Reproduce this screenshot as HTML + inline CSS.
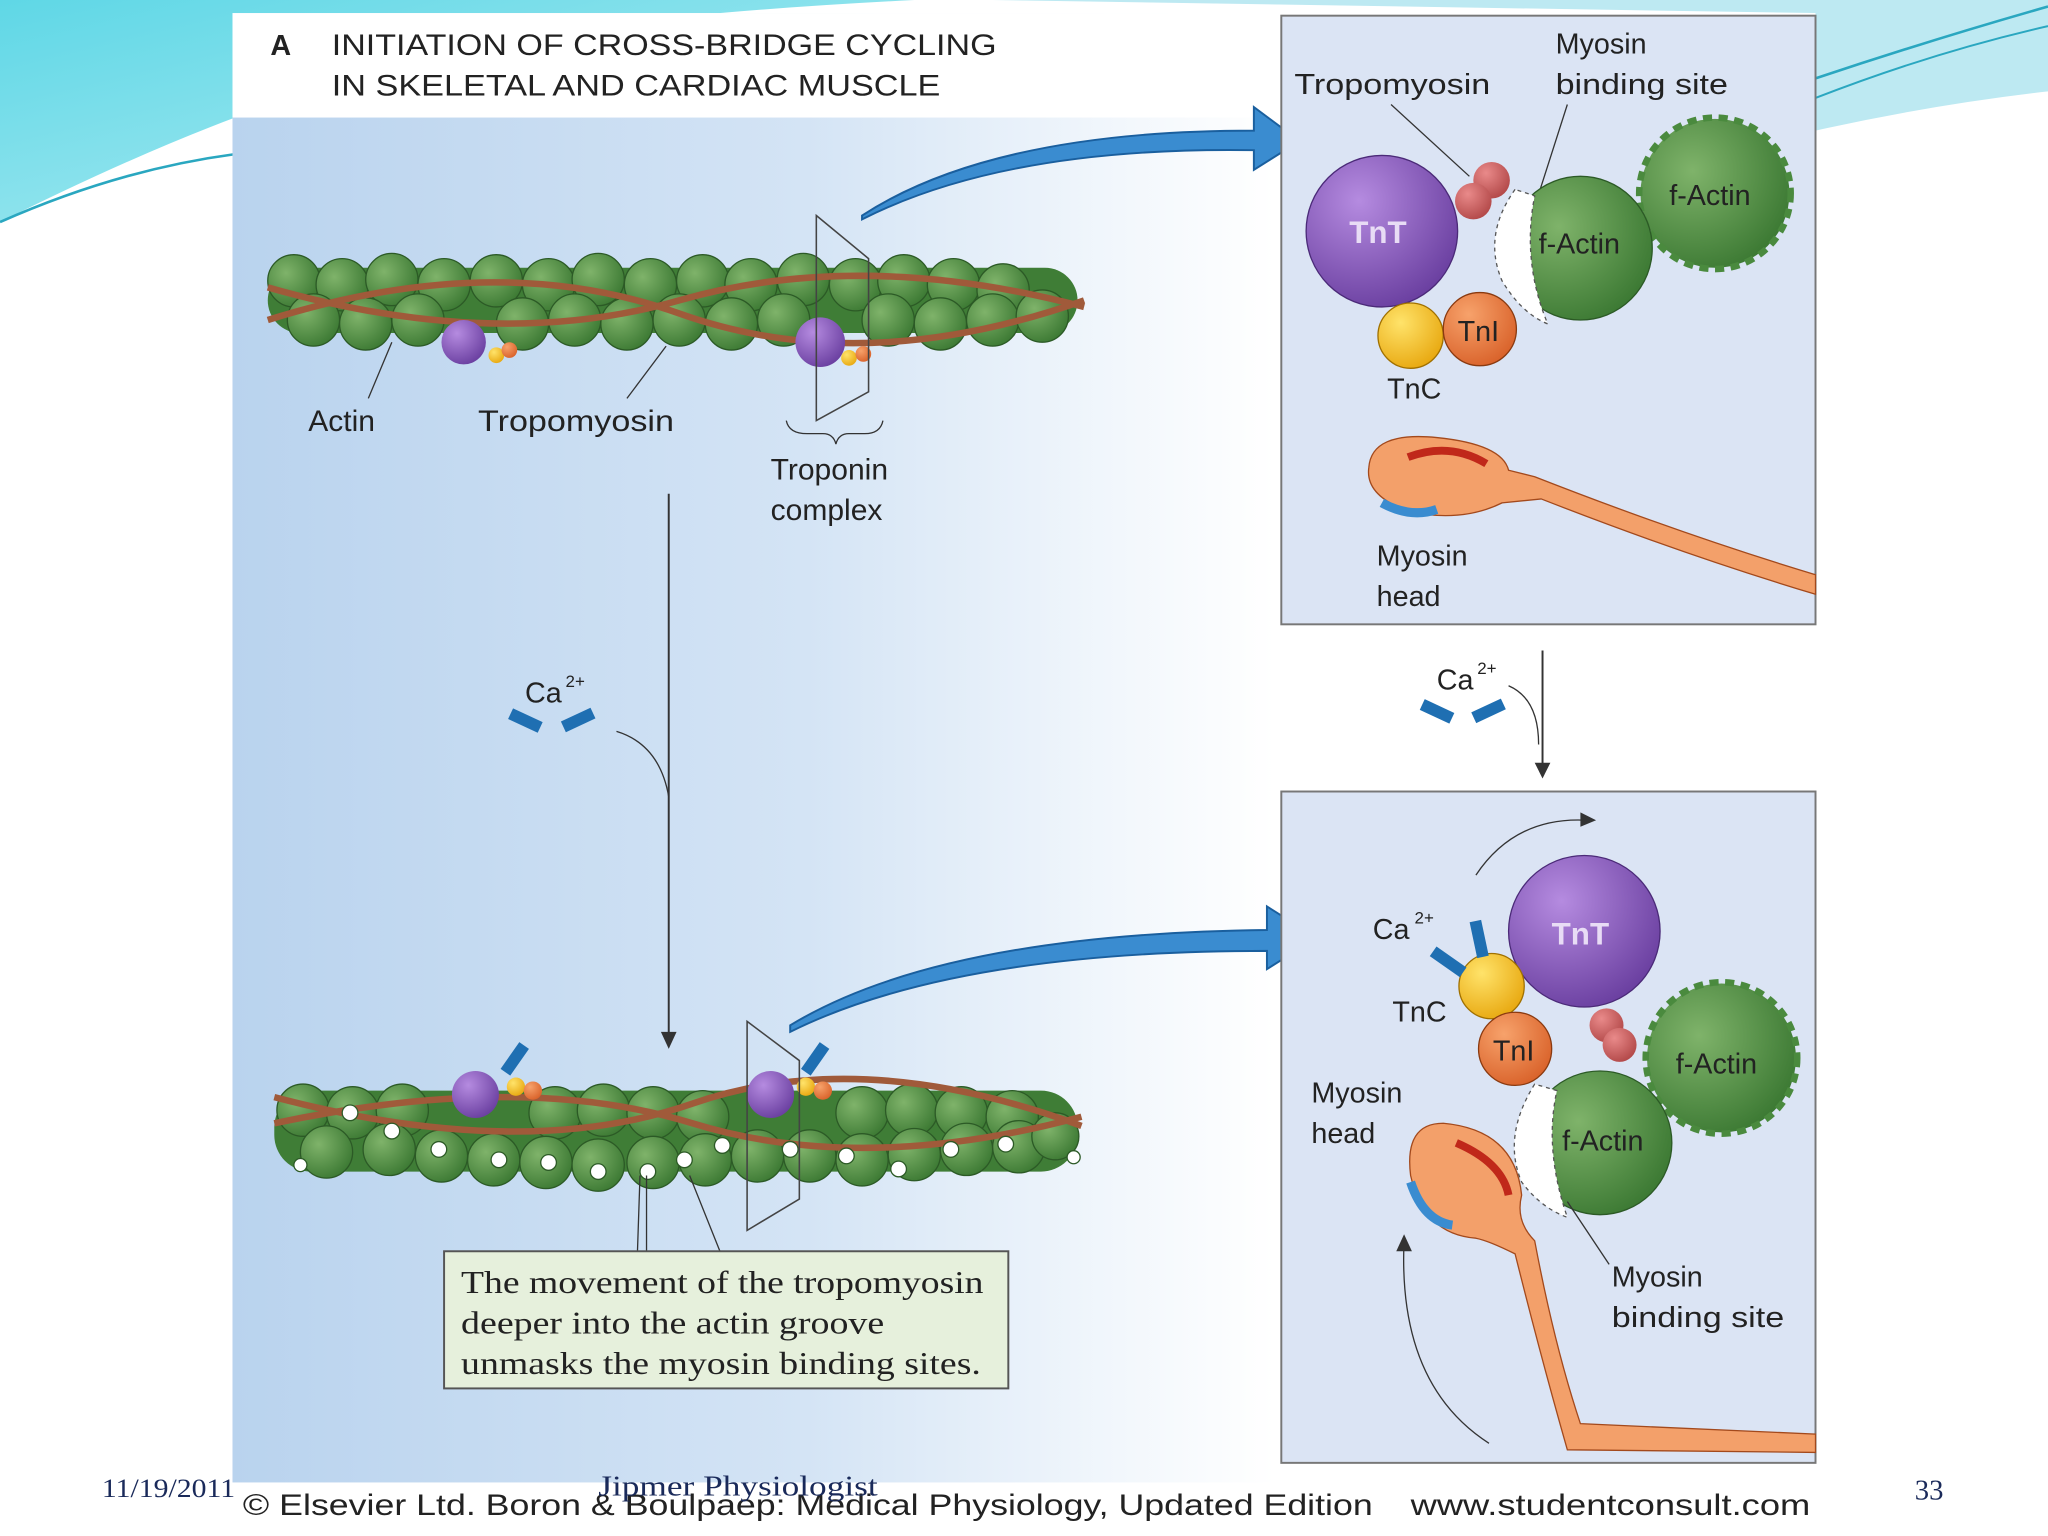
<!DOCTYPE html>
<html><head><meta charset="utf-8"><style>
html,body{margin:0;padding:0;background:#fff;}
svg{display:block;}
text{font-family:"Liberation Sans",sans-serif;}
</style></head><body>
<svg width="2048" height="1536" viewBox="0 0 1568 1176" xmlns="http://www.w3.org/2000/svg">
<defs>
<linearGradient id="bg" x1="0" y1="0" x2="1" y2="0">
<stop offset="0" stop-color="#b9d3ee"/><stop offset="0.55" stop-color="#d4e4f5"/><stop offset="0.85" stop-color="#f2f7fc"/><stop offset="1" stop-color="#ffffff"/>
</linearGradient>
<linearGradient id="tl" x1="0" y1="0" x2="1" y2="1">
<stop offset="0" stop-color="#5fd7e6"/><stop offset="1" stop-color="#b9eef3"/>
</linearGradient>
<radialGradient id="gr" cx="0.35" cy="0.35" r="0.7"><stop offset="0" stop-color="#7fb36a"/><stop offset="1" stop-color="#3d7a34"/></radialGradient>
<radialGradient id="pu" cx="0.35" cy="0.3" r="0.75"><stop offset="0" stop-color="#b58be0"/><stop offset="1" stop-color="#6a3fa0"/></radialGradient>
<radialGradient id="ye" cx="0.35" cy="0.3" r="0.75"><stop offset="0" stop-color="#ffe36a"/><stop offset="1" stop-color="#e8a810"/></radialGradient>
<radialGradient id="or" cx="0.35" cy="0.3" r="0.75"><stop offset="0" stop-color="#f7a26b"/><stop offset="1" stop-color="#d9622a"/></radialGradient>
<radialGradient id="rd" cx="0.35" cy="0.3" r="0.75"><stop offset="0" stop-color="#e98a8a"/><stop offset="1" stop-color="#b24848"/></radialGradient>
</defs>
<rect width="1568" height="1176" fill="#fff"/>
<path d="M0 0 H700 Q300 20 180 90 Q100 120 0 170 Z" fill="url(#tl)"/>
<path d="M0 170 Q90 130 180 118" stroke="#2aa7c0" stroke-width="2" fill="none"/>
<path d="M760 0 H1568 V70 Q1480 80 1390 100 L1390 10 Z" fill="#bde9f2"/>
<path d="M1390 60 Q1480 30 1568 5" stroke="#2aa7c0" stroke-width="2" fill="none"/>
<path d="M1390 75 Q1480 40 1568 20" stroke="#2aa7c0" stroke-width="1.5" fill="none"/>
<rect x="178" y="10" width="798" height="1125" fill="url(#bg)"/>
<rect x="178" y="10" width="798" height="80" fill="#fff"/>
<text x="207" y="42" font-size="22" font-weight="bold" fill="#222">A</text>
<text x="254" y="42" font-size="23" fill="#222" textLength="509" lengthAdjust="spacingAndGlyphs">INITIATION OF CROSS-BRIDGE CYCLING</text>
<text x="254" y="73" font-size="23" fill="#222" textLength="466" lengthAdjust="spacingAndGlyphs">IN SKELETAL AND CARDIAC MUSCLE</text>
<g>
<rect x="205" y="205" width="620" height="50" rx="25" fill="#3f7d36"/>
<g fill="url(#gr)" stroke="#2c5a26" stroke-width="1">
<circle cx="225" cy="215" r="20"/><circle cx="262" cy="218" r="20"/><circle cx="300" cy="214" r="20"/><circle cx="340" cy="218" r="20"/><circle cx="380" cy="215" r="20"/><circle cx="420" cy="218" r="20"/><circle cx="458" cy="214" r="20"/><circle cx="498" cy="218" r="20"/><circle cx="538" cy="215" r="20"/><circle cx="575" cy="218" r="20"/><circle cx="615" cy="214" r="20"/><circle cx="655" cy="218" r="20"/><circle cx="692" cy="215" r="20"/><circle cx="730" cy="218" r="20"/><circle cx="768" cy="222" r="20"/>
<circle cx="240" cy="245" r="20"/><circle cx="280" cy="248" r="20"/><circle cx="320" cy="245" r="20"/><circle cx="400" cy="248" r="20"/><circle cx="440" cy="245" r="20"/><circle cx="480" cy="248" r="20"/><circle cx="520" cy="245" r="20"/><circle cx="560" cy="248" r="20"/><circle cx="600" cy="245" r="20"/><circle cx="680" cy="245" r="20"/><circle cx="720" cy="248" r="20"/><circle cx="760" cy="245" r="20"/><circle cx="798" cy="242" r="20"/>
</g>
<path d="M205 220 Q380 270 520 230 T830 235" stroke="#a05a3a" stroke-width="5" fill="none"/>
<path d="M205 245 Q380 190 520 240 T830 230" stroke="#a05a3a" stroke-width="5" fill="none"/>
<circle cx="355" cy="262" r="17" fill="url(#pu)"/><circle cx="380" cy="272" r="6" fill="url(#ye)"/><circle cx="390" cy="268" r="6" fill="url(#or)"/>
<circle cx="628" cy="262" r="19" fill="url(#pu)"/><circle cx="650" cy="274" r="6" fill="url(#ye)"/><circle cx="661" cy="271" r="6" fill="url(#or)"/>
<path d="M625 165 L665 198 L665 300 L625 322 Z" fill="none" stroke="#444" stroke-width="1.2"/>
</g>
<line x1="300" y1="262" x2="282" y2="305" stroke="#333"/>
<line x1="510" y1="265" x2="480" y2="305" stroke="#333"/>
<text x="236" y="330" font-size="23" fill="#222">Actin</text>
<text x="366" y="330" font-size="23" fill="#222" textLength="150" lengthAdjust="spacingAndGlyphs">Tropomyosin</text>
<path d="M602 322 Q604 332 618 332 L630 332 Q638 332 640 340 Q642 332 650 332 L662 332 Q674 332 676 322" stroke="#333" fill="none"/>
<text x="590" y="367" font-size="23" fill="#222">Troponin</text>
<text x="590" y="398" font-size="23" fill="#222">complex</text>
<path d="M660 165 Q760 100 960 100 L960 82 L995 108 L960 130 L960 115 Q770 112 660 168 Z" fill="#3a8cd0" stroke="#1a5f9e" stroke-width="1.5"/>
<path d="M605 785 Q720 715 970 712 L970 694 L1008 718 L970 742 L970 728 Q730 728 605 790 Z" fill="#3a8cd0" stroke="#1a5f9e" stroke-width="1.5"/>
<line x1="512" y1="378" x2="512" y2="795" stroke="#333" stroke-width="1.5"/>
<path d="M506 790 L512 803 L518 790 Z" fill="#333"/>
<path d="M472 560 Q505 570 512 610" stroke="#333" fill="none"/>
<text x="402" y="538" font-size="22" fill="#222">Ca</text><text x="433" y="526" font-size="13" fill="#222">2+</text>
<rect x="390" y="547" width="25" height="9" fill="#1f6fb2" transform="rotate(25 402 551)"/>
<rect x="430" y="547" width="25" height="9" fill="#1f6fb2" transform="rotate(-25 442 551)"/>
<g>
<rect x="210" y="835" width="615" height="62" rx="28" fill="#3f7d36"/>
<g fill="url(#gr)" stroke="#2c5a26" stroke-width="1">
<circle cx="232" cy="850" r="20"/><circle cx="270" cy="852" r="20"/><circle cx="308" cy="850" r="20"/><circle cx="425" cy="852" r="20"/><circle cx="462" cy="850" r="20"/><circle cx="500" cy="852" r="20"/><circle cx="538" cy="855" r="20"/><circle cx="660" cy="852" r="20"/><circle cx="698" cy="850" r="20"/><circle cx="736" cy="852" r="20"/><circle cx="775" cy="855" r="20"/>
<circle cx="250" cy="882" r="20"/><circle cx="298" cy="880" r="20"/><circle cx="338" cy="885" r="20"/><circle cx="378" cy="888" r="20"/><circle cx="418" cy="890" r="20"/><circle cx="458" cy="892" r="20"/><circle cx="500" cy="890" r="20"/><circle cx="540" cy="888" r="20"/><circle cx="580" cy="885" r="20"/><circle cx="620" cy="885" r="20"/><circle cx="660" cy="888" r="20"/><circle cx="700" cy="884" r="20"/><circle cx="740" cy="880" r="20"/><circle cx="780" cy="878" r="20"/><circle cx="808" cy="870" r="18"/>
</g>
<path d="M210 840 Q400 890 530 845 T828 862" stroke="#a05a3a" stroke-width="5" fill="none"/>
<path d="M210 860 Q400 820 530 860 T828 855" stroke="#a05a3a" stroke-width="5" fill="none"/>
<g fill="#fff" stroke="#2c5a26">
<circle cx="268" cy="852" r="6"/><circle cx="300" cy="866" r="6"/><circle cx="336" cy="880" r="6"/><circle cx="382" cy="888" r="6"/><circle cx="420" cy="890" r="6"/><circle cx="458" cy="897" r="6"/><circle cx="496" cy="897" r="6"/><circle cx="524" cy="888" r="6"/><circle cx="553" cy="877" r="6"/><circle cx="605" cy="880" r="6"/><circle cx="648" cy="885" r="6"/><circle cx="688" cy="895" r="6"/><circle cx="728" cy="880" r="6"/><circle cx="770" cy="876" r="6"/><circle cx="822" cy="886" r="5"/><circle cx="230" cy="892" r="5"/>
</g>
<circle cx="364" cy="838" r="18" fill="url(#pu)"/><circle cx="395" cy="832" r="7" fill="url(#ye)"/><circle cx="408" cy="835" r="7" fill="url(#or)"/>
<rect x="390" y="798" width="9" height="25" fill="#1f6fb2" transform="rotate(35 394 810)"/>
<circle cx="590" cy="838" r="18" fill="url(#pu)"/><circle cx="617" cy="832" r="7" fill="url(#ye)"/><circle cx="630" cy="835" r="7" fill="url(#or)"/>
<rect x="620" y="798" width="9" height="25" fill="#1f6fb2" transform="rotate(35 624 810)"/>
<path d="M572 782 L612 812 L612 918 L572 942 Z" fill="none" stroke="#444" stroke-width="1.2"/>
</g>
<path d="M490 900 L488 960 M495 900 L495 960 M528 900 L552 960" stroke="#333" fill="none"/>
<rect x="340" y="958" width="432" height="105" fill="#e6f0dc" stroke="#555" stroke-width="1.5"/>
<g font-size="24" fill="#222">
<text x="353" y="990" style="font-family:'Liberation Serif',serif" textLength="400" lengthAdjust="spacingAndGlyphs">The movement of the tropomyosin</text>
<text x="353" y="1021" style="font-family:'Liberation Serif',serif" textLength="324" lengthAdjust="spacingAndGlyphs">deeper into the actin groove</text>
<text x="353" y="1052" style="font-family:'Liberation Serif',serif" textLength="398" lengthAdjust="spacingAndGlyphs">unmasks the myosin binding sites.</text>
</g>
<rect x="981" y="12" width="409" height="466" fill="#dbe4f4" stroke="#777" stroke-width="1.5"/>
<text x="991" y="72" font-size="22" fill="#222" textLength="150" lengthAdjust="spacingAndGlyphs">Tropomyosin</text>
<text x="1191" y="41" font-size="22" fill="#222">Myosin</text>
<text x="1191" y="72" font-size="22" fill="#222" textLength="132" lengthAdjust="spacingAndGlyphs">binding site</text>
<line x1="1065" y1="80" x2="1125" y2="135" stroke="#333"/>
<line x1="1200" y1="80" x2="1168" y2="180" stroke="#333"/>
<circle cx="1313" cy="148" r="57" fill="url(#gr)"/>
<circle cx="1313" cy="148" r="58" fill="none" stroke="#4a8a3e" stroke-width="5" stroke-dasharray="7 5"/>
<circle cx="1210" cy="190" r="55" fill="url(#gr)" stroke="#2c5a26"/>
<path d="M1160 145 Q1135 180 1150 215 Q1165 240 1185 248 Q1165 200 1175 150 Z" fill="#fff" stroke="#555" stroke-dasharray="3 3"/>
<text x="1178" y="194" font-size="22" fill="#222">f-Actin</text>
<text x="1278" y="157" font-size="22" fill="#222">f-Actin</text>
<circle cx="1142" cy="138" r="14" fill="url(#rd)"/><circle cx="1128" cy="154" r="14" fill="url(#rd)"/>
<circle cx="1058" cy="177" r="58" fill="url(#pu)" stroke="#4b2a78"/>
<text x="1033" y="186" font-size="24" font-weight="bold" fill="#e8dcf5">TnT</text>
<circle cx="1080" cy="257" r="25" fill="url(#ye)" stroke="#a07000"/>
<circle cx="1133" cy="252" r="28" fill="url(#or)" stroke="#8a3a10"/>
<text x="1116" y="261" font-size="22" fill="#222">TnI</text>
<text x="1062" y="305" font-size="22" fill="#222">TnC</text>
<path d="M1048 358 Q1050 330 1100 335 Q1150 340 1155 360 L1175 365 Q1290 410 1390 440 L1390 455 Q1290 425 1180 382 L1150 385 Q1120 400 1080 392 Q1045 380 1048 358 Z" fill="#f3a06a" stroke="#a3491c"/>
<path d="M1078 350 Q1110 338 1138 355" stroke="#c0281a" stroke-width="6" fill="none"/>
<path d="M1058 385 Q1080 397 1100 390" stroke="#3a8cd0" stroke-width="7" fill="none"/>
<text x="1054" y="433" font-size="22" fill="#222">Myosin</text>
<text x="1054" y="464" font-size="22" fill="#222">head</text>
<text x="1100" y="528" font-size="22" fill="#222">Ca</text><text x="1131" y="516" font-size="13" fill="#222">2+</text>
<rect x="1088" y="540" width="25" height="9" fill="#1f6fb2" transform="rotate(25 1100 544)"/>
<rect x="1127" y="540" width="25" height="9" fill="#1f6fb2" transform="rotate(-25 1139 544)"/>
<line x1="1181" y1="498" x2="1181" y2="590" stroke="#333" stroke-width="1.5"/>
<path d="M1175 584 L1181 596 L1187 584 Z" fill="#333"/>
<path d="M1155 525 Q1178 535 1178 570" stroke="#333" fill="none"/>
<rect x="981" y="606" width="409" height="514" fill="#dbe4f4" stroke="#777" stroke-width="1.5"/>
<path d="M1130 670 Q1160 625 1215 628" stroke="#333" fill="none"/><path d="M1210 622 L1222 628 L1210 633 Z" fill="#333"/>
<circle cx="1318" cy="810" r="57" fill="url(#gr)"/>
<circle cx="1318" cy="810" r="58" fill="none" stroke="#4a8a3e" stroke-width="5" stroke-dasharray="7 5"/>
<text x="1283" y="822" font-size="22" fill="#222">f-Actin</text>
<circle cx="1225" cy="875" r="55" fill="url(#gr)" stroke="#2c5a26"/>
<path d="M1175 830 Q1150 870 1165 905 Q1180 925 1200 932 Q1182 880 1192 835 Z" fill="#fff" stroke="#555" stroke-dasharray="3 3"/>
<text x="1196" y="881" font-size="22" fill="#222">f-Actin</text>
<circle cx="1230" cy="785" r="13" fill="url(#rd)"/><circle cx="1240" cy="800" r="13" fill="url(#rd)"/>
<circle cx="1213" cy="713" r="58" fill="url(#pu)" stroke="#4b2a78"/>
<text x="1188" y="723" font-size="24" font-weight="bold" fill="#e8dcf5">TnT</text>
<circle cx="1142" cy="755" r="25" fill="url(#ye)" stroke="#a07000"/>
<circle cx="1160" cy="803" r="28" fill="url(#or)" stroke="#8a3a10"/>
<text x="1143" y="812" font-size="22" fill="#222">TnI</text>
<rect x="1128" y="705" width="9" height="28" fill="#1f6fb2" transform="rotate(-12 1132 719)"/>
<rect x="1095" y="732" width="28" height="9" fill="#1f6fb2" transform="rotate(35 1109 736)"/>
<text x="1051" y="719" font-size="22" fill="#222">Ca</text><text x="1083" y="707" font-size="13" fill="#222">2+</text>
<text x="1066" y="782" font-size="22" fill="#222">TnC</text>
<text x="1004" y="844" font-size="22" fill="#222">Myosin</text>
<text x="1004" y="875" font-size="22" fill="#222">head</text>
<path d="M1080 900 Q1075 860 1105 860 Q1160 865 1165 915 Q1160 935 1175 950 Q1190 1030 1210 1090 L1390 1098 L1390 1112 L1200 1110 Q1180 1040 1160 960 Q1140 950 1130 948 Q1090 945 1080 900 Z" fill="#f3a06a" stroke="#a3491c"/>
<path d="M1115 875 Q1150 890 1155 915" stroke="#c0281a" stroke-width="6" fill="none"/>
<path d="M1080 905 Q1090 935 1112 938" stroke="#3a8cd0" stroke-width="7" fill="none"/>
<path d="M1140 1105 Q1070 1060 1075 950" stroke="#333" fill="none"/><path d="M1069 958 L1075 945 L1081 958 Z" fill="#333"/>
<line x1="1200" y1="920" x2="1232" y2="968" stroke="#333"/>
<text x="1234" y="985" font-size="22" fill="#222">Myosin</text>
<text x="1234" y="1016" font-size="22" fill="#222" textLength="132" lengthAdjust="spacingAndGlyphs">binding site</text>
<text x="186" y="1160" font-size="23" fill="#222" textLength="865" lengthAdjust="spacingAndGlyphs">© Elsevier Ltd. Boron &amp; Boulpaep: Medical Physiology, Updated Edition</text>
<text x="1080" y="1160" font-size="23" fill="#222" textLength="306" lengthAdjust="spacingAndGlyphs">www.studentconsult.com</text>
<text x="78" y="1146" font-size="20" fill="#1a2a5a" style="font-family:'Liberation Serif',serif" textLength="102" lengthAdjust="spacingAndGlyphs">11/19/2011</text>
<text x="458" y="1145" font-size="22" fill="#1a2a5a" style="font-family:'Liberation Serif',serif" textLength="214" lengthAdjust="spacingAndGlyphs">Jipmer Physiologist</text>
<text x="1466" y="1148" font-size="22" fill="#1a2a5a" style="font-family:'Liberation Serif',serif">33</text>
</svg>
</body></html>
